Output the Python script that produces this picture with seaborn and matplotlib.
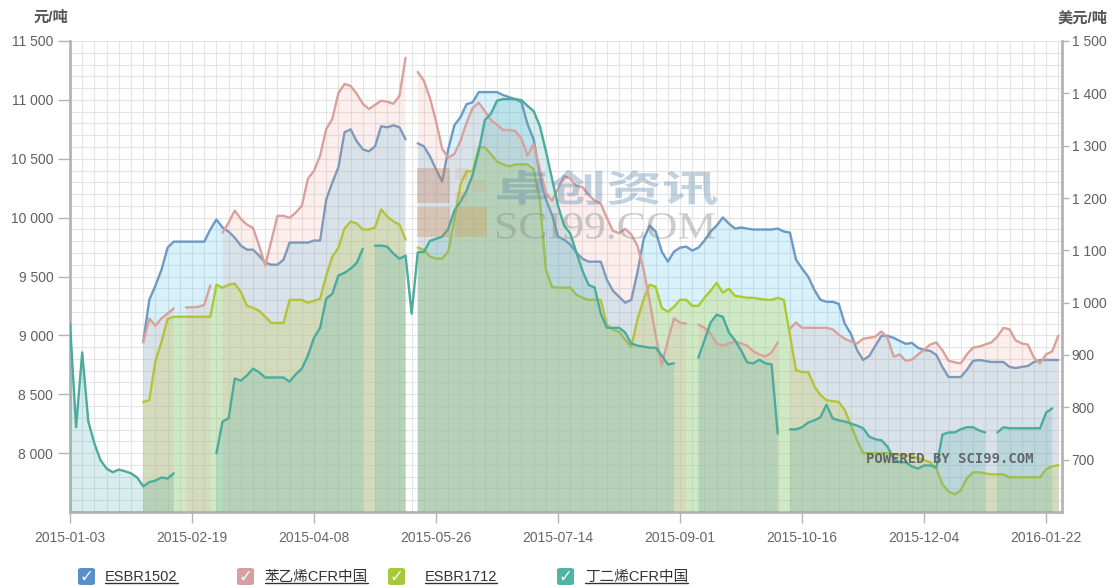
import numpy as np
import pandas as pd
import matplotlib
matplotlib.use("Agg")
import matplotlib.pyplot as plt
import seaborn as sns
from matplotlib.ticker import FuncFormatter, MultipleLocator, FixedLocator
from matplotlib.patches import FancyBboxPatch, Rectangle, PathPatch
from matplotlib.lines import Line2D
from matplotlib.textpath import TextPath
from matplotlib.font_manager import FontProperties
from matplotlib.transforms import Affine2D, IdentityTransform

nan = np.nan

# ---------------- data ----------------
date_ticks = ['2015-01-03', '2015-02-19', '2015-04-08', '2015-05-26', '2015-07-14',
              '2015-09-01', '2015-10-16', '2015-12-04', '2016-01-22']
points_per_tick = 20

series_names = ['ESBR1502', '苯乙烯CFR中国', 'ESBR1712', '丁二烯CFR中国']

# ESBR1502 (元/吨, left axis)
esbr1502 = [nan]*12 + [
    8945, 9302, 9422, 9558, 9745, 9796, 9796, 9796, 9796, 9796,
    9796, 9899, 9984, 9916, 9882, 9830, 9762, 9728, 9728, 9677,
    9618, 9600, 9600, 9643, 9788, 9788, 9788, 9788, 9805, 9805,
    10154, 10299, 10427, 10725, 10750, 10648, 10580, 10563, 10606, 10776,
    10767, 10784, 10767, 10665, nan, 10631, 10606, 10520, 10410, 10307,
    10580, 10784, 10853, 10963, 10980, 11066, 11066, 11066, 11066, 11040,
    11023, 11006, 10980, 10793, 10665, 10367, 10154, 10026, 9839, 9813,
    9771, 9703, 9651, 9626, 9626, 9626, 9473, 9379, 9328, 9277,
    9302, 9532, 9813, 9933, 9882, 9711, 9626, 9711, 9745, 9754,
    9720, 9745, 9805, 9882, 9933, 10001, 9950, 9907, 9916, 9907,
    9899, 9899, 9899, 9899, 9907, 9882, 9873, 9643, 9567, 9498,
    9388, 9302, 9285, 9285, 9268, 9098, 9013, 8876, 8791, 8825,
    8911, 8996, 8996, 8979, 8953, 8928, 8936, 8894, 8876, 8868,
    8834, 8732, 8646, 8646, 8646, 8706, 8783, 8791, 8783, 8774,
    8774, 8774, 8732, 8723, 8732, 8740, 8774, 8791, 8791, 8791,
    8791]

# 苯乙烯CFR中国 (美元/吨, right axis)
styrene_cfr = [nan]*12 + [
    924, 970, 956, 970, 979, 989, nan, 991, 991, 992,
    996, 1033, nan, 1134, 1153, 1176, 1160, 1149, 1143, 1109,
    1071, 1118, 1166, 1166, 1162, 1172, 1185, 1237, 1252, 1281,
    1332, 1351, 1401, 1418, 1414, 1399, 1380, 1370, 1378, 1386,
    1384, 1380, 1395, 1468, nan, 1441, 1424, 1391, 1347, 1294,
    1277, 1284, 1309, 1344, 1372, 1382, 1366, 1349, 1340, 1330,
    1330, 1328, 1313, 1281, 1303, 1256, 1210, 1195, 1218, 1242,
    1237, 1223, 1221, 1206, 1195, 1189, 1162, 1137, 1133, 1141,
    1130, 1109, 1065, 1004, 937, 880, 928, 970, 962, 960,
    nan, 958, 952, 941, 922, 918, 922, 926, 922, 918,
    907, 901, 897, 905, 924, nan, 950, 962, 952, 952,
    952, 952, 952, 949, 939, 931, 926, 922, 931, 933,
    935, 945, 933, 897, 901, 889, 891, 901, 910, 920,
    924, 909, 889, 886, 884, 901, 914, 916, 920, 924,
    935, 952, 949, 928, 922, 920, 895, 884, 901, 907,
    937]

# ESBR1712 (元/吨, left axis)
esbr1712 = [nan]*12 + [
    8434, 8450, 8783, 8945, 9140, 9158, 9158, 9158, 9158, 9158,
    9158, 9158, 9430, 9405, 9430, 9439, 9370, 9251, 9234, 9209,
    9158, 9106, 9106, 9106, 9302, 9302, 9302, 9277, 9294, 9311,
    9507, 9669, 9745, 9907, 9967, 9950, 9899, 9899, 9916, 10069,
    10009, 9967, 9941, 9813, nan, 9745, 9728, 9669, 9652, 9652,
    9711, 9984, 10282, 10393, 10393, 10597, 10597, 10537, 10478, 10452,
    10435, 10452, 10452, 10452, 10410, 10154, 9558, 9413, 9405, 9405,
    9405, 9345, 9319, 9302, 9302, 9302, 9089, 9047, 9030, 8962,
    8902, 9132, 9302, 9430, 9413, 9234, 9200, 9243, 9302, 9302,
    9251, 9251, 9319, 9379, 9447, 9362, 9396, 9336, 9328, 9319,
    9319, 9311, 9302, 9302, 9319, 9302, 9004, 8706, 8689, 8689,
    8570, 8493, 8450, 8442, 8434, 8365, 8238, 8110, 8000, 8000,
    8000, 8000, 8000, 7991, 7982, 7982, 7974, 7957, 7940, 7922,
    7871, 7735, 7675, 7650, 7684, 7786, 7837, 7837, 7829, 7820,
    7820, 7820, 7795, 7795, 7795, 7795, 7795, 7795, 7863, 7888,
    7897]

# 丁二烯CFR中国 (美元/吨, right axis)
butadiene_cfr = [
    960, 762, 905, 773, 731, 699, 683, 676, 681, 678,
    674, 666, 649, 657, 660, 666, 664, 674, nan, nan,
    nan, nan, 687, nan, 712, 773, 779, 855, 851, 861,
    874, 867, 857, 857, 857, 857, 849, 863, 874, 899,
    933, 952, 1008, 1017, 1052, 1057, 1065, 1076, 1103, nan,
    1109, 1109, 1107, 1094, 1084, 1090, 979, 1096, 1097, 1118,
    1122, 1126, 1141, 1176, 1193, 1214, 1244, 1290, 1349, 1361,
    1386, 1389, 1389, 1389, 1387, 1376, 1366, 1338, 1290, 1237,
    1185, 1147, 1132, 1096, 1061, 1034, 1029, 979, 952, 952,
    952, 943, 922, 918, 916, 914, 914, 899, 882, 884,
    nan, nan, nan, 895, 928, 962, 977, 973, 943, 928,
    909, 886, 884, 891, 884, 882, 750, nan, 758, 758,
    762, 771, 775, 781, 805, 779, 775, 773, 769, 765,
    760, 744, 739, 737, 725, 702, 695, 695, 687, 683,
    689, 689, 685, 748, 752, 752, 758, 762, 762, 756,
    752, nan, 752, 762, 760, 760, 760, 760, 760, 760,
    790, 798, nan]

# date index missing for every series (white stripe)
missing_for_all = [56]

left_range = (7500, 11500)
right_range = (600, 1500)

# ---------------- style ----------------
sns.set_theme(style="white")
plt.rcParams['font.family'] = ['Liberation Sans', 'Noto Sans CJK SC']
plt.rcParams['axes.unicode_minus'] = False

W, H = 1119, 587
fig = plt.figure(figsize=(W / 100, H / 100), dpi=100)
fig.patch.set_facecolor('white')

ax = fig.add_axes([70 / W, 75 / H, 992 / W, 471 / H])
ax2 = ax.twinx()

n = len(butadiene_cfr)
x = np.arange(n)

blue_line, blue_fill = '#6b9ac4', '#5cc8f0'
pink_line, pink_fill = '#d9a19c', '#e8988e'
lime_line, lime_fill = '#a9cc2c', '#bcd53c'
teal_line, teal_fill = '#4bab9c', '#4fb0ae'


def draw(axis, values, lc, fc, alpha, base):
    y = np.asarray(values, float)
    mask = np.isfinite(y)
    fmask = mask.copy()
    fmask[missing_for_all] = False
    axis.fill_between(x, np.where(mask, y, base), base, where=fmask,
                      color=fc, alpha=alpha, lw=0, zorder=1)
    seg = np.cumsum(~mask)
    df = pd.DataFrame({'x': x, 'v': y, 'seg': seg})[mask]
    sns.lineplot(data=df, x='x', y='v', units='seg', estimator=None,
                 color=lc, lw=1.7, ax=axis, legend=False, zorder=3)


draw(ax, esbr1502, blue_line, blue_fill, 0.24, left_range[0])
draw(ax, esbr1712, lime_line, lime_fill, 0.28, left_range[0])
draw(ax2, styrene_cfr, pink_line, pink_fill, 0.16, right_range[0])
draw(ax2, butadiene_cfr, teal_line, teal_fill, 0.22, right_range[0])

for a in (ax, ax2):
    a.set_xlabel('')
    a.set_ylabel('')
    a.set_xlim(0, 162.6)

ax.set_ylim(*left_range)
ax2.set_ylim(*right_range)

fmt = FuncFormatter(lambda v, p: f"{v:,.0f}".replace(',', ' '))
ax.yaxis.set_major_locator(FixedLocator(np.arange(8000, 11501, 500)))
ax.yaxis.set_major_formatter(fmt)
ax.yaxis.set_minor_locator(MultipleLocator(100))
ax2.yaxis.set_major_locator(FixedLocator(np.arange(700, 1501, 100)))
ax2.yaxis.set_major_formatter(fmt)

ax.xaxis.set_major_locator(FixedLocator(np.arange(0, n, points_per_tick)))
ax.set_xticklabels(date_ticks)
ax.xaxis.set_minor_locator(MultipleLocator(2))

ax.set_axisbelow(True)
ax.grid(which='both', color='#e4e4e4', lw=0.8)
ax2.grid(False)

gray_axis = '#b4b4b4'
ax.tick_params(axis='y', which='major', direction='out', length=9, width=1,
               color=gray_axis, labelcolor='#606060', labelsize=10, pad=3, left=True)
ax.tick_params(axis='y', which='minor', length=0)
ax.tick_params(axis='x', which='major', direction='out', length=8, width=1,
               color=gray_axis, labelcolor='#666666', labelsize=10, pad=6, bottom=True)
ax.tick_params(axis='x', which='minor', length=0)
ax2.tick_params(axis='y', which='major', direction='out', length=5, width=1,
                color=gray_axis, labelcolor='#606060', labelsize=10, pad=2, right=True)

for s in ('top', 'right'):
    ax.spines[s].set_visible(False)
for s in ('left', 'bottom'):
    ax.spines[s].set_color(gray_axis)
    ax.spines[s].set_linewidth(2)
for s in ('top', 'left', 'bottom'):
    ax2.spines[s].set_visible(False)
ax2.spines['right'].set_color(gray_axis)
ax2.spines['right'].set_linewidth(2)

# axis unit titles
fig.text(51 / W, 1 - 18 / H, '元/吨', ha='center', va='center', fontsize=11,
         weight='bold', color='#555555')
fig.text(1083 / W, 1 - 18 / H, '美元/吨', ha='center', va='center', fontsize=11,
         weight='bold', color='#555555')

# ---------------- watermark ----------------
def add_path_text(text, family, weight, x0, x1, ytop, ybot, color, alpha):
    tp = TextPath((0, 0), text, size=100, prop=FontProperties(family=family, weight=weight))
    bb = tp.get_extents()
    sx = (x1 - x0) / bb.width
    sy = (ybot - ytop) / bb.height
    tr = Affine2D().translate(-bb.x0, -bb.y0).scale(sx, sy).translate(x0, H - ybot)
    patch = PathPatch(tr.transform_path(tp), facecolor=color, edgecolor='none',
                      alpha=alpha, transform=IdentityTransform(), zorder=5)
    fig.add_artist(patch)


def add_rect(x0, y0, x1, y1, color, alpha):
    fig.add_artist(Rectangle((x0 / W, 1 - y1 / H), (x1 - x0) / W, (y1 - y0) / H,
                             transform=fig.transFigure, facecolor=color,
                             edgecolor='none', alpha=alpha, zorder=5))


add_rect(417, 168, 450, 203, '#c27a55', 0.32)
add_rect(417, 207, 450, 237, '#cf8647', 0.32)
add_rect(455, 207, 487, 237, '#d9974d', 0.32)
add_rect(455, 168, 468, 180, '#d6a27a', 0.2)
add_rect(472, 180, 487, 192, '#d6a27a', 0.2)
add_rect(455, 192, 468, 203, '#d6a27a', 0.2)
add_path_text('卓创资讯', 'Noto Sans CJK SC', 'bold', 497, 717, 170, 205, '#5f89ad', 0.38)
add_path_text('SCI99.COM', 'Liberation Serif', 'normal', 497, 715, 213, 239, '#8a8a8a', 0.42)

fig.text(866 / W, 1 - 459 / H, 'POWERED BY SCI99.COM', ha='left', va='center',
         family='DejaVu Sans Mono', weight='bold', fontsize=10, color='#555555',
         alpha=0.85)

# ---------------- legend ----------------
legend_box_colors = ['#5a8fc8', '#d4a0a0', '#a5c93a', '#4fb3a5']
legend_box_x = [78, 237, 388, 557]
legend_text_x = [105, 265, 425, 585]
yc = 577
texts = []
for name, bc, bx, tx in zip(series_names, legend_box_colors, legend_box_x, legend_text_x):
    fig.add_artist(FancyBboxPatch((bx / W, 1 - (yc + 8) / H), 17 / W, 17 / H,
                                  boxstyle='round,pad=0,rounding_size=0.003',
                                  transform=fig.transFigure, facecolor=bc,
                                  edgecolor='none'))
    fig.text((bx + 8.5) / W, 1 - (yc - 0.5) / H, '✓', ha='center', va='center',
             family='DejaVu Sans', weight='bold', fontsize=12, color='white')
    t = fig.text(tx / W, 1 - yc / H, name, ha='left', va='center', fontsize=10.5,
                 color='#333333')
    texts.append(t)

fig.canvas.draw()
renderer = fig.canvas.get_renderer()
for t in texts:
    bb = t.get_window_extent(renderer)
    fig.add_artist(Line2D([bb.x0 / W, bb.x1 / W], [(bb.y0 + 1) / H, (bb.y0 + 1) / H],
                          transform=fig.transFigure, color='#333333', lw=1))

fig.savefig('out.png', dpi=100, facecolor='white')
